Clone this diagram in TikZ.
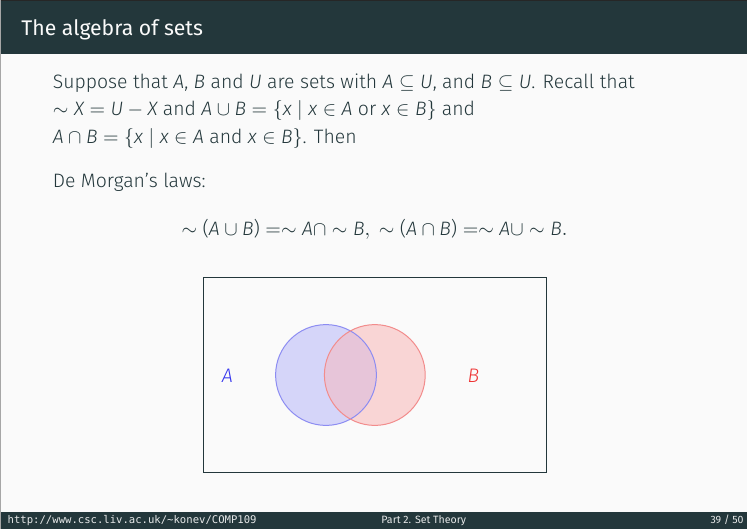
\documentclass[tikz,border=0pt]{standalone}
\usepackage{fontspec}
\setmainfont{Fira Sans Light}[ItalicFont={Fira Sans Light Italic},BoldFont={Fira Sans}]
\newfontfamily\titlefont{Fira Sans}
\newfontfamily\urlfont{DejaVu Sans Mono}
\definecolor{mDarkTeal}{HTML}{23373B}
\definecolor{mBg}{HTML}{FAFAFA}
\definecolor{mFoot}{HTML}{E6E8E8}
\definecolor{fillA}{HTML}{D5D5F9}
\definecolor{fillB}{HTML}{F9D5D5}
\definecolor{fillAB}{HTML}{E7C5D9}
\definecolor{lineA}{HTML}{8C8CF2}
\definecolor{lineB}{HTML}{F28C8C}
\definecolor{labA}{HTML}{3434EE}
\definecolor{labB}{HTML}{EE3434}
\newcommand\mi[1]{\textit{#1}}
\tikzset{
  body/.style={anchor=base west, inner sep=0pt, text=mDarkTeal, font=\fontsize{9.7}{14}\selectfont},
  foot/.style={inner sep=0pt, text=mFoot, font=\fontsize{5.3}{6.5}\selectfont},
  setfill/.style={circle, draw=none, minimum size=50.4pt, inner sep=0pt},
  lab/.style={inner sep=0pt, font=\fontsize{9.8}{14}\selectfont\itshape}
}
\begin{document}
\begin{tikzpicture}[x=0.5pt, y=-0.5pt]
  % background
  \path[fill=mBg, use as bounding box] (0,0) rectangle (747,529);
  % title bar
  \fill[mDarkTeal] (0,0) rectangle (747,54.5);
  \fill[black!85] (0,0) rectangle (747,1.2);
  \node[anchor=base west, inner sep=0pt, text=mBg, font=\titlefont\fontsize{10.6}{13}\selectfont] (title) at (21,35.7) {The algebra of sets};
  % body text
  \node[body] (l1) at (52.5,88.3) {Suppose that \mi{A}, \mi{B} and \mi{U} are sets with $\mi{A}\subseteq\mi{U}$, and $\mi{B}\subseteq\mi{U}$. Recall that};
  \node[body] (l2) at (52.5,115.8) {$\sim\mi{X}=\mi{U}-\mi{X}$ and $\mi{A}\cup\mi{B}=\{\mi{x}\mid\mi{x}\in\mi{A}\mbox{ or }\mi{x}\in\mi{B}\}$ and};
  \node[body] (l3) at (52.5,143.8) {$\mi{A}\cap\mi{B}=\{\mi{x}\mid\mi{x}\in\mi{A}\mbox{ and }\mi{x}\in\mi{B}\}$. Then};
  \node[body] (dm) at (52.5,187.3) {De Morgan’s laws:};
  \node[body, anchor=base] (law) at (374.5,235.3) {$\sim\textup{(}\mi{A}\cup\mi{B}\textup{)}=\sim\mi{A}\cap\sim\mi{B},\ \sim\textup{(}\mi{A}\cap\mi{B}\textup{)}=\sim\mi{A}\cup\sim\mi{B}.$};
  % Venn diagram
  \node[draw=mDarkTeal, line width=0.6pt, minimum width=171.5pt, minimum height=97.5pt, inner sep=0pt] (U) at (375,375) {};
  \node[setfill, fill=fillA] (A) at (326,375) {};
  \node[setfill, fill=fillB] (B) at (374.8,375) {};
  \begin{scope}
    \clip (A.center) circle [radius=50.4];
    \fill[fillAB] (B.center) circle [radius=50.4];
  \end{scope}
  \draw[lineA, line width=0.5pt] (A.center) circle [radius=50.4];
  \draw[lineB, line width=0.5pt] (B.center) circle [radius=50.4];
  \node[lab, text=labA] (la) at (227.5,376) {A};
  \node[lab, text=labB] (lb) at (473.5,376) {B};
  % footer
  \fill[mDarkTeal] (0,512) rectangle (747,529);
  \node[foot, anchor=base west, font=\urlfont\fontsize{5.3}{6.5}\selectfont] (url) at (7.3,523.3) {http://www.csc.liv.ac.uk/\textasciitilde konev/COMP109};
  \node[foot, anchor=base west, font=\titlefont\fontsize{5.3}{6.5}\selectfont] (part) at (381,523.3) {Part 2. Set Theory};
  \node[foot, anchor=base east, font=\titlefont\fontsize{5.3}{6.5}\selectfont] (pg) at (744,523.3) {39 / 50};
  % left edge line
  \draw[gray!70, line width=0.6pt] (0.6,0) -- (0.6,529);
\end{tikzpicture}
\end{document}
